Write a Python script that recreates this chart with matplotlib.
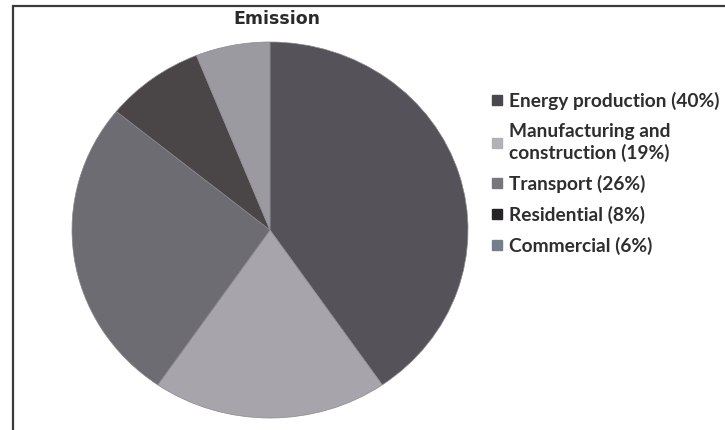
import matplotlib
matplotlib.use("Agg")
import matplotlib.pyplot as plt
from matplotlib.lines import Line2D
from matplotlib.patches import Rectangle

# Emission shares by sector
sectors = ["Energy production", "Manufacturing and\nconstruction", "Transport",
           "Residential", "Commercial"]
shares = [40, 19, 26, 8, 6]
title = "Emission"

wedge_colors = ["#55525a", "#a7a5ab", "#6e6c73", "#4a4547", "#9c9aa1"]
legend_colors = ["#4a484d", "#b3b1b6", "#77767c", "#252326", "#737d8c"]

W, H = 725, 430
fig = plt.figure(figsize=(W / 100, H / 100), dpi=100)
fig.patch.set_facecolor("white")

# page frame (left and top edges visible)
fig.add_artist(Rectangle((13 / W, -0.05), 1.2, 1 - 6 / H + 0.05,
                         transform=fig.transFigure, fill=False,
                         edgecolor="#3a3a3a", linewidth=1.6))

cx, cy, rx, ry = 270, 230, 198, 188
ax = fig.add_axes([(cx - rx) / W, 1 - (cy + ry) / H, 2 * rx / W, 2 * ry / H])
wedges, _ = ax.pie(shares, colors=wedge_colors, startangle=90,
                   counterclock=False, radius=1,
                   wedgeprops=dict(linewidth=0.5, edgecolor="#8a888e"))
ax.set_aspect("auto")
ax.set_xlim(-1, 1)
ax.set_ylim(-1, 1)
ax.axis("off")

fig.text(277 / W, 1 - 19 / H, title, ha="center", va="center",
         fontsize=12.5, fontweight="heavy", color="#2a2a2a",
         family="DejaVu Sans")

labels = [f"{s} ({v}%)" for s, v in zip(sectors, shares)]
handles = [Line2D([], [], marker="s", linestyle="none", markersize=7,
                  markerfacecolor=c, markeredgecolor=c) for c in legend_colors]
leg = fig.legend(handles, labels, loc="upper left",
                 bbox_to_anchor=(492 / W, 1 - 92 / H),
                 frameon=False, handlelength=0.55, handletextpad=0.35,
                 labelspacing=0.68, borderpad=0, borderaxespad=0,
                 prop=dict(family="Lato", weight="bold", size=13.8))
for t in leg.get_texts():
    t.set_color("#2e2e2e")
    t.set_linespacing(1.22)

fig.savefig("out.png", dpi=100, facecolor="white")
